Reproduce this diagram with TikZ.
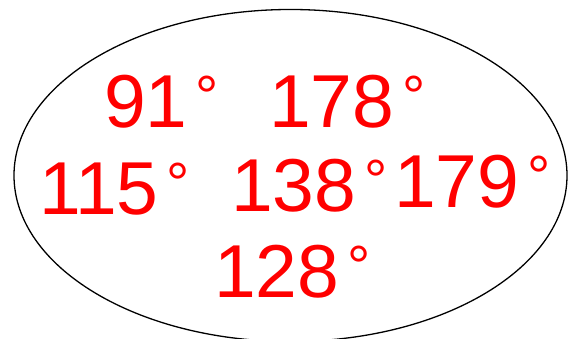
\documentclass[tikz,border=0pt]{standalone}
\usepackage{fontspec}
\setmainfont{Liberation Sans}
\begin{document}
\begin{tikzpicture}[x=1pt,y=1pt,
  deg/.style={anchor=base west,inner sep=0pt,outer sep=0pt,text=red,font=\fontsize{75}{75}\selectfont}]
\useasboundingbox (0,0) rectangle (568,339);
\newcommand{\dg}{\hspace{8pt}{\fontsize{58}{58}\selectfont\raisebox{11pt}{°}}}
\begin{scope}
\clip (0,0) rectangle (568,339);
\draw[line width=1.3pt] (290.5,163.5) ellipse [x radius=276.5, y radius=166];
\end{scope}
\node[deg] (a) at (104,211) {91\dg};
\node[deg] (b) at (269,211) {178\dg};
\node[deg] (c) at (39,124) {115\dg};
\node[deg] (d) at (231,127) {138\dg};
\node[deg] (e) at (394,131) {179\dg};
\node[deg] (f) at (214,41) {128\dg};
\end{tikzpicture}
\end{document}
